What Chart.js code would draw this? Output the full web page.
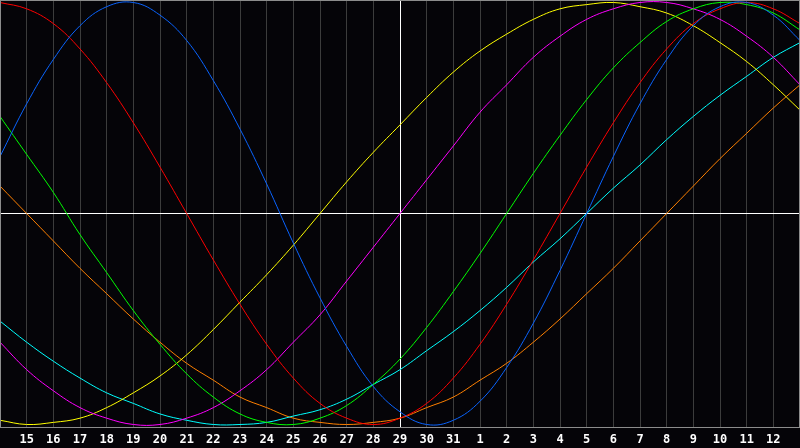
<!DOCTYPE html>
<html>
<head>
<meta charset="utf-8">
<script src="https://cdn.jsdelivr.net/npm/chart.js@4/dist/chart.umd.min.js"></script>
<style>
  html, body { margin: 0; padding: 0; background: #050408; }
  canvas { display: block; }
</style>
</head>
<body>
<canvas id="bioCanvas" width="800" height="448"></canvas>
<script>
// day labels under the grid
var dayLabels = ['15','16','17','18','19','20','21','22','23','24','25','26','27','28','29','30','31',
                 '1','2','3','4','5','6','7','8','9','10','11','12'];
var todayLabel = '29';

// values, one per day from the left edge to the right edge
var physical = [0.27, 0.52, 0.73, 0.89, 0.98, 1.00, 0.94, 0.82, 0.63, 0.40, 0.14, -0.14, -0.40, -0.63, -0.82, -0.94,
                -1.00, -0.98, -0.89, -0.73, -0.52, -0.27, 0.00, 0.27, 0.52, 0.73, 0.89, 0.98, 1.00, 0.94, 0.82];
var emotional = [1.00, 0.97, 0.90, 0.78, 0.62, 0.43, 0.22, 0.00, -0.22, -0.43, -0.62, -0.78, -0.90, -0.97, -1.00, -0.97,
                 -0.90, -0.78, -0.62, -0.43, -0.22, 0.00, 0.22, 0.43, 0.62, 0.78, 0.90, 0.97, 1.00, 0.97, 0.90];
var intellectual = [0.46, 0.28, 0.10, -0.10, -0.28, -0.46, -0.62, -0.76, -0.87, -0.95, -0.99, -1.00, -0.97, -0.91, -0.81, -0.69,
                    -0.54, -0.37, -0.19, 0.00, 0.19, 0.37, 0.54, 0.69, 0.81, 0.91, 0.97, 1.00, 0.99, 0.95, 0.87];
var intuitive = [-0.61, -0.74, -0.84, -0.92, -0.97, -1.00, -1.00, -0.97, -0.92, -0.84, -0.74, -0.61, -0.48, -0.32, -0.16, 0.00,
                 0.16, 0.32, 0.48, 0.61, 0.74, 0.84, 0.92, 0.97, 1.00, 1.00, 0.97, 0.92, 0.84, 0.74, 0.61];
var aesthetic = [-0.98, -1.00, -0.99, -0.97, -0.92, -0.85, -0.77, -0.67, -0.55, -0.42, -0.29, -0.15, 0.00, 0.15, 0.29, 0.42,
                 0.55, 0.67, 0.77, 0.85, 0.92, 0.97, 0.99, 1.00, 0.98, 0.95, 0.89, 0.81, 0.72, 0.61, 0.49];
var awareness = [0.13, 0.00, -0.13, -0.26, -0.38, -0.50, -0.61, -0.71, -0.79, -0.87, -0.92, -0.97, -0.99, -1.00, -0.99, -0.97,
                 -0.92, -0.87, -0.79, -0.71, -0.61, -0.50, -0.38, -0.26, -0.13, 0.00, 0.13, 0.26, 0.38, 0.50, 0.61];
var spiritual = [-0.51, -0.61, -0.70, -0.78, -0.85, -0.90, -0.95, -0.98, -1.00, -1.00, -0.99, -0.96, -0.93, -0.88, -0.81, -0.74,
                 -0.65, -0.56, -0.46, -0.35, -0.23, -0.12, 0.00, 0.12, 0.23, 0.35, 0.46, 0.56, 0.65, 0.74, 0.81];

// one empty slot at each edge so the frame lines sit there
var labels = [''].concat(dayLabels, ['']);

function line(data, color) {
    return {
        data: data,
        borderColor: color,
        borderWidth: 1,
        pointRadius: 0,
        pointHoverRadius: 0,
        fill: false,
        tension: 0.4
    };
}

// gray frame round the plot
var framePlugin = {
    id: 'frame',
    afterDraw: function(chart) {
        var a = chart.chartArea;
        var ctx = chart.ctx;
        ctx.save();
        ctx.strokeStyle = '#8c8c8c';
        ctx.lineWidth = 1;
        ctx.strokeRect(a.left + 0.5, a.top + 0.5, a.right - a.left - 1, a.bottom - a.top - 1);
        ctx.restore();
    }
};

var ctx = document.getElementById('bioCanvas').getContext('2d');
new Chart(ctx, {
    type: 'line',
    data: {
        labels: labels,
        datasets: [
            line(physical, '#0a64ff'),
            line(emotional, '#ff0000'),
            line(intellectual, '#00ff00'),
            line(intuitive, '#ff00ff'),
            line(aesthetic, '#ffff00'),
            line(spiritual, '#00ffff'),
            line(awareness, '#ff8000')
        ]
    },
    options: {
        responsive: false,
        animation: false,
        layout: { autoPadding: false, padding: { left: 0, right: 0, top: 0, bottom: 2 } },
        plugins: { legend: { display: false }, tooltip: { enabled: false } },
        scales: {
            x: {
                type: 'category',
                offset: false,
                border: { display: false },
                grid: {
                    drawTicks: true,
                    tickLength: 6,
                    tickColor: 'rgba(0,0,0,0)',
                    color: function(c) {
                        var lab = labels[c.index];
                        if (lab === '') return 'rgba(0,0,0,0)';
                        if (lab === todayLabel && c.index === 15) return '#ffffff';
                        return '#3c3c3c';
                    }
                },
                ticks: {
                    autoSkip: false,
                    maxRotation: 0,
                    padding: 0,
                    color: '#ffffff',
                    font: { family: 'DejaVu Sans Mono', size: 12, weight: 'bold', lineHeight: 1 }
                }
            },
            y: {
                min: -1.0166,
                max: 1.0118,
                border: { display: false },
                afterBuildTicks: function(scale) { scale.ticks = [{ value: 0 }]; },
                grid: { drawTicks: false, color: '#ffffff' },
                ticks: { display: false }
            }
        }
    },
    plugins: [framePlugin]
});
</script>
</body>
</html>
